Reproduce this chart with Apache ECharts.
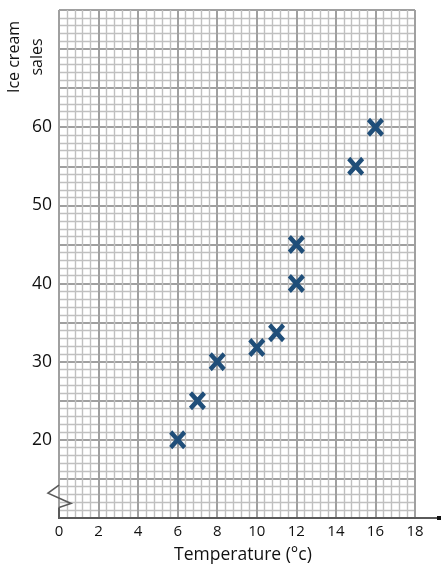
<!DOCTYPE html>
<html>
<head>
<meta charset="utf-8">
<script src="https://cdn.jsdelivr.net/npm/echarts@6/dist/echarts.min.js"></script>
<style>
html,body{margin:0;padding:0;background:#fff;}
#chart{width:442px;height:569px;}
</style>
</head>
<body>
<div id="chart"></div>
<script>
// Data
var temperature = [6, 7, 8, 10, 11, 12, 12, 15, 16];
var iceCreamSales = [20, 25, 30, 31.8, 33.7, 40, 45, 55, 60];
var xTickLabels = [0, 2, 4, 6, 8, 10, 12, 14, 16, 18];
var yTickLabels = [20, 30, 40, 50, 60];

var points = temperature.map(function (t, i) { return [t, iceCreamSales[i]]; });

var crossPath = 'path://M0,18 L18,0 L50,32 L82,0 L100,18 L68,50 L100,82 L82,100 L50,68 L18,100 L0,82 L32,50 Z';
var FONT = 'Open Sans';

var chart = echarts.init(document.getElementById('chart'));
var option = {
  animation: false,
  backgroundColor: '#ffffff',
  grid: { left: 59, right: 27, top: 10, bottom: 44, containLabel: false },
  xAxis: {
    type: 'value', min: 0, max: 18, interval: 2,
    axisLine: { show: false },
    axisTick: { show: false },
    axisLabel: {
      margin: 6, color: '#111', fontSize: 15, fontFamily: FONT,
      formatter: function (v) { return xTickLabels.indexOf(v) >= 0 ? String(v) : ''; }
    },
    splitLine: { show: true, lineStyle: { color: '#a0a0a0', width: 2 } },
    minorTick: { show: false, splitNumber: 5 },
    minorSplitLine: { show: true, lineStyle: { color: '#c0c0c0', width: 1.4 } },
    name: 'Temperature (°c)', nameLocation: 'middle', nameGap: 28,
    nameTextStyle: { color: '#111', fontSize: 17.5, fontFamily: FONT, padding: [0, 0, 0, 12] }
  },
  yAxis: {
    type: 'value', min: 10, max: 75, interval: 5,
    axisLine: { show: false },
    axisTick: { show: false },
    axisLabel: {
      margin: 7, color: '#111', fontSize: 17.5, fontFamily: FONT,
      formatter: function (v) { return yTickLabels.indexOf(v) >= 0 ? String(v) : ''; }
    },
    splitLine: { show: true, lineStyle: { color: '#a0a0a0', width: 2 } },
    minorTick: { show: false, splitNumber: 5 },
    minorSplitLine: { show: true, lineStyle: { color: '#c0c0c0', width: 1.4 } }
  },
  series: [{
    type: 'scatter',
    data: points,
    symbol: crossPath,
    symbolSize: [17, 19],
    itemStyle: { color: '#1f4e79', opacity: 1 },
    z: 10
  }]
};
chart.setOption(option);

// Axis lines with break and arrow, positioned from the axis scales
var origin = chart.convertToPixel({ gridIndex: 0 }, [0, 10]);
var top = chart.convertToPixel({ gridIndex: 0 }, [0, 75]);
var ax = origin[0], ay = origin[1];
var breakTop = chart.convertToPixel({ gridIndex: 0 }, [0, 14.2])[1];
var breakBottom = chart.convertToPixel({ gridIndex: 0 }, [0, 11.6])[1];
var axisColor = '#5a5a5a';
chart.setOption({
  graphic: [
    { type: 'polyline', z: 20, shape: { points: [[ax, top[1] - 6], [ax, breakTop]] }, style: { stroke: axisColor, lineWidth: 2, fill: null } },
    { type: 'polyline', z: 20, shape: { points: [[ax, breakTop], [ax - 11, breakTop + 8], [ax + 12, breakBottom - 2], [ax, breakBottom + 2]] }, style: { stroke: axisColor, lineWidth: 1.6, fill: null, lineJoin: 'miter' } },
    { type: 'polyline', z: 20, shape: { points: [[ax, breakBottom + 2], [ax, ay]] }, style: { stroke: axisColor, lineWidth: 2, fill: null } },
    { type: 'line', z: 20, shape: { x1: ax - 1, y1: ay, x2: 440, y2: ay }, style: { stroke: axisColor, lineWidth: 2 } },
    { type: 'rect', z: 21, shape: { x: 437, y: ay - 2, width: 4, height: 4 }, style: { fill: '#111' } },
    {
      type: 'text', z: 20, x: 26, y: 57, rotation: Math.PI / 2,
      style: { text: 'Ice cream\nsales', fill: '#111', fontSize: 16, fontFamily: FONT, align: 'center', verticalAlign: 'middle', lineHeight: 23 }
    }
  ]
});
</script>
</body>
</html>
